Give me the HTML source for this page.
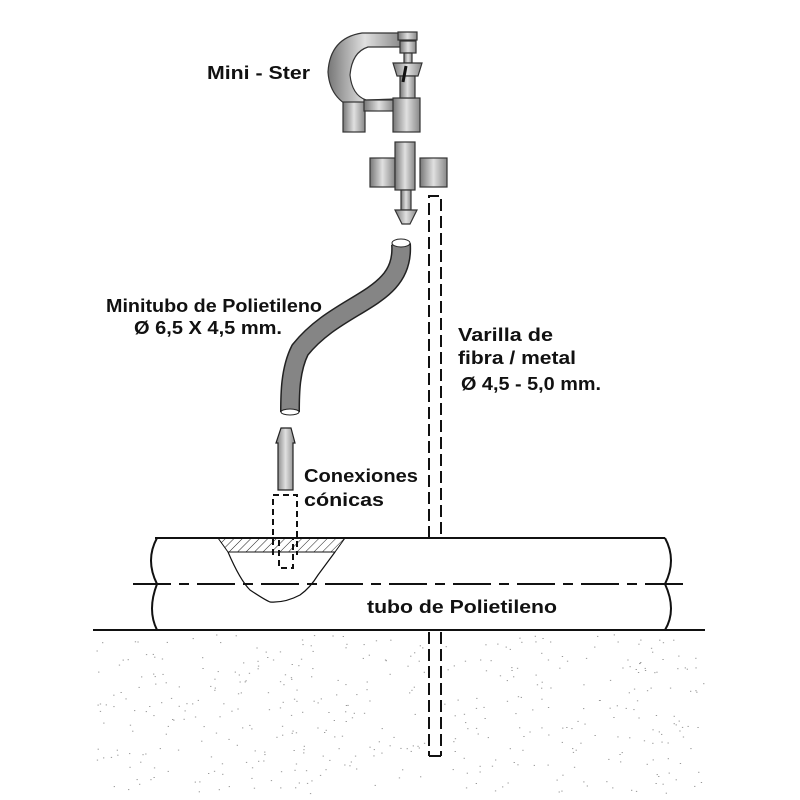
<!DOCTYPE html>
<html><head><meta charset="utf-8"><style>
html,body{margin:0;padding:0;background:#fff}
svg{display:block}
text{font-family:"Liberation Sans",sans-serif;font-weight:bold;font-size:18px;fill:#111}
</style></head><body>
<svg id="s" width="800" height="800" viewBox="0 0 800 800" xml:space="preserve">
<defs>
<linearGradient id="g" x1="0" x2="1"><stop offset="0" stop-color="#777"/><stop offset="0.5" stop-color="#e0e0e0"/><stop offset="1" stop-color="#888"/></linearGradient>
<pattern id="h" width="6" height="6" patternUnits="userSpaceOnUse" patternTransform="rotate(45)"><line x1="0" y1="0" x2="0" y2="6" stroke="#222" stroke-width="1"/></pattern>
</defs>
<g id="dots" fill="#999"></g>
<!-- sprinkler -->
<g stroke="#333" stroke-width="1.2" fill="url(#g)">
<path d="M362 33 L402 33 L402 47 L368 47 Q352 52 350 75 Q352 95 366 100 L395 99 L395 110 L362 111 Q330 103 328 72 Q330 38 362 33 Z"/>
<rect x="343" y="102" width="22" height="30"/>
<rect x="364" y="100" width="30" height="11"/>
<rect x="393" y="98" width="27" height="34"/>
<rect x="398" y="32" width="19" height="8"/>
<rect x="400" y="41" width="16" height="12"/>
<rect x="404" y="53" width="8" height="10"/>
<path d="M393 63 L422 63 L418 76 L397 76 Z"/>
<rect x="400" y="76" width="15" height="22"/>
<rect x="370" y="158" width="25" height="29"/>
<rect x="420" y="158" width="27" height="29"/>
<rect x="395" y="142" width="20" height="48"/>
<rect x="401" y="190" width="10" height="20"/>
<path d="M395 210 L417 210 L410 224 L402 224 Z"/>
</g>
<line x1="406" y1="66" x2="403" y2="82" stroke="#111" stroke-width="3"/>
<!-- minitube -->
<path d="M401 244 C405 300 340 300 300 350 C290 370 290 395 290 412" fill="none" stroke="#222" stroke-width="20"/>
<path d="M401 244 C405 300 340 300 300 350 C290 370 290 395 290 412" fill="none" stroke="#858585" stroke-width="17"/>
<ellipse cx="401" cy="243" rx="9" ry="4" fill="#fff" stroke="#222"/>
<ellipse cx="290" cy="412" rx="9" ry="3" fill="#fff" stroke="#222"/>
<!-- connector -->
<path d="M281 428 L291 428 L295 443 L293 443 L293 490 L278 490 L278 443 L276 443 Z" fill="url(#g)" stroke="#222" stroke-width="1.2"/>
<!-- rod -->
<g stroke="#111" stroke-width="2" stroke-dasharray="12 5" fill="none">
<path d="M429 538 L429 196 L441 196 L441 538"/>
<line x1="429" y1="632" x2="429" y2="756"/><line x1="441" y1="632" x2="441" y2="756"/>
</g>
<line x1="429" y1="756" x2="441" y2="756" stroke="#111" stroke-width="2"/>
<!-- pipe -->
<path d="M218 538 L345 538 L335 552 L228 552 Z" fill="url(#h)" stroke="#111"/>
<path d="M228 552 Q240 580 250 590 Q265 600 270 602 Q285 603 300 595 Q310 588 318 575 L335 552" fill="none" stroke="#111" stroke-width="1.2"/>
<g stroke="#111" stroke-width="2" fill="none">
<line x1="155" y1="538" x2="665" y2="538"/>
<line x1="93" y1="630" x2="705" y2="630"/>
<path d="M157 538 Q145 560 157 584 Q147 610 157 630"/>
<path d="M665 538 Q677 560 665 584 Q677 610 665 630"/>
</g>
<line x1="133" y1="584" x2="685" y2="584" stroke="#111" stroke-width="2" stroke-dasharray="38 8 10 8"/>
<g stroke="#111" stroke-width="2" stroke-dasharray="6 4" fill="none">
<path d="M273 555 L273 495 L297 495 L297 555"/>
<rect x="279" y="538" width="14" height="30"/>
</g>
<!-- text -->
<text x="207" y="79" textLength="103" lengthAdjust="spacingAndGlyphs">Mini -  Ster</text>
<text x="106" y="312" textLength="216" lengthAdjust="spacingAndGlyphs">Minitubo de Polietileno</text>
<text x="134" y="334" textLength="148" lengthAdjust="spacingAndGlyphs">Ø 6,5 X 4,5 mm.</text>
<text x="458" y="341" textLength="95" lengthAdjust="spacingAndGlyphs">Varilla de</text>
<text x="458" y="364" textLength="118" lengthAdjust="spacingAndGlyphs">fibra / metal</text>
<text x="461" y="390" textLength="140" lengthAdjust="spacingAndGlyphs">Ø 4,5 -  5,0 mm.</text>
<text x="304" y="482" textLength="114" lengthAdjust="spacingAndGlyphs">Conexiones</text>
<text x="304" y="506" textLength="80" lengthAdjust="spacingAndGlyphs">cónicas</text>
<text x="367" y="613" textLength="190" lengthAdjust="spacingAndGlyphs">tubo  de Polietileno</text>
</svg>
<script>
var g=document.getElementById('dots'),s=12345;function r(){s=(s*16807)%2147483647;return s/2147483647;}
var h='';for(var i=0;i<450;i++){var x=95+r()*610,y=634+r()*160;if(x>426&&x<444)continue;h+='<rect x="'+x.toFixed(1)+'" y="'+y.toFixed(1)+'" width="1.3" height="1"/>';}
g.innerHTML=h;
</script>
</body></html>
